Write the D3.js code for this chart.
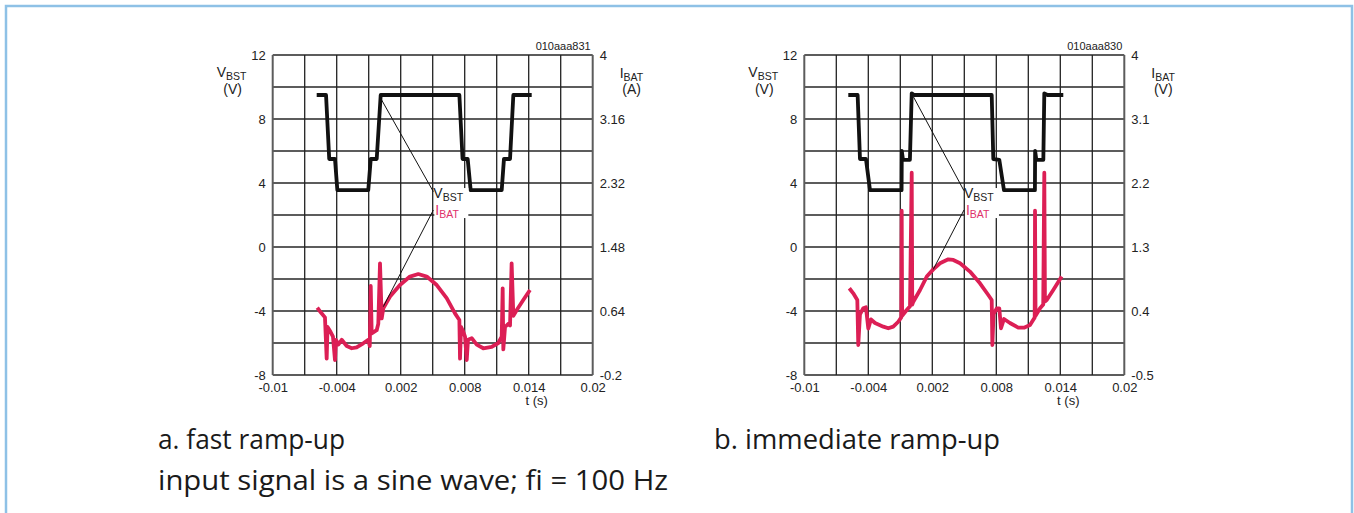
<!DOCTYPE html>
<html lang="en">
<head>
    <meta charset="UTF-8">
    <script src="https://d3js.org/d3.v7.min.js"></script>
    <title>VBST / IBAT ramp-up</title>
    <style>
        body{
            margin: 0;
            background: #fff;
        }
        svg{
            display: block;
        }
        .tick text{
            font-family: "Liberation Sans", Arial, sans-serif;
            font-size: 13px;
            fill: #222;
        }
    </style>
</head>
<body>
    <script>
        // shared axis ticks
        const tTicks = [-0.01, -0.004, 0.002, 0.008, 0.014, 0.02];
        const tTickLabels = ["-0.01", "-0.004", "0.002", "0.008", "0.014", "0.02"];
        const vTicks = [-8, -4, 0, 4, 8, 12];
        const vTickLabels = ["-8", "-4", "0", "4", "8", "12"];

        // right axis ticks for each panel
        const iTicksFast = [-0.2, 0.64, 1.48, 2.32, 3.16, 4];
        const iTickLabelsFast = ["-0.2", "0.64", "1.48", "2.32", "3.16", "4"];
        const iTicksImm = [-0.5, 0.4, 1.3, 2.2, 3.1, 4];
        const iTickLabelsImm = ["-0.5", "0.4", "1.3", "2.2", "3.1", "4"];

        // a. fast ramp-up : [t (s), VBST (V)]
        const vbstFast = [
            [-0.005875, 9.5], [-0.0050, 9.5], [-0.0047, 5.5], [-0.00416, 5.5],
            [-0.00394, 3.55], [-0.00104, 3.55], [-0.00081, 5.5], [-0.00025, 5.5],
            [0.000125, 9.5], [0.0075, 9.5], [0.0078, 5.5], [0.00828, 5.5],
            [0.00856, 3.55], [0.01147, 3.55], [0.01168, 5.5], [0.01225, 5.5],
            [0.01256, 9.5], [0.01428, 9.5]
        ];
        // a. fast ramp-up : [t (s), IBAT (A)]
        const ibatFast = [
            [-0.00582, 0.684], [-0.0055, 0.623], [-0.0051, 0.556], [-0.00494, 0.014],
            [-0.00486, 0.43], [-0.00458, 0.367], [-0.00435, 0.304], [-0.00416, -0.003],
            [-0.00407, 0.262], [-0.00385, 0.199], [-0.00353, 0.262], [-0.00306, 0.18],
            [-0.00259, 0.151], [-0.00213, 0.164], [-0.00151, 0.216], [-0.00104, 0.262],
            [-0.0009, 0.18], [-0.00081, 0.968], [-0.00072, 0.346], [-0.00025, 0.388],
            [-0.0001, 0.472], [0.00006, 1.266], [0.00022, 0.543], [0.00037, 0.676],
            [0.001, 0.829], [0.00193, 0.981], [0.00287, 1.092], [0.00365, 1.125],
            [0.00444, 1.092], [0.00538, 0.981], [0.00631, 0.808], [0.00709, 0.609],
            [0.0075, 0.522], [0.00756, 0.014], [0.00766, 0.43], [0.00787, 0.367],
            [0.00803, 0.304], [0.00819, -0.003], [0.00831, 0.262], [0.00866, 0.283],
            [0.00913, 0.199], [0.00974, 0.151], [0.01053, 0.168], [0.01115, 0.22],
            [0.01147, 0.304], [0.01156, 0.938], [0.01162, 0.136], [0.01178, 0.43],
            [0.01209, 0.472], [0.01225, 0.45], [0.0124, 1.266], [0.01256, 0.577],
            [0.01288, 0.653], [0.01349, 0.785], [0.01412, 0.915]
        ];

        // b. immediate ramp-up : [t (s), VBST (V)]
        const vbstImm = [
            [-0.005875, 9.5], [-0.0050, 9.5], [-0.00478, 5.5], [-0.00422, 5.5],
            [-0.00384, 3.55], [-0.00088, 3.55], [-0.00086, 6.0], [-0.00075, 5.45],
            [-0.0001, 5.45], [0.00007, 9.6], [0.0003, 9.5], [0.00757, 9.5],
            [0.00772, 5.5], [0.00828, 5.45], [0.00872, 3.55], [0.01162, 3.55],
            [0.01164, 6.0], [0.01175, 5.45], [0.01241, 5.45], [0.0125, 9.6],
            [0.0128, 9.5], [0.01428, 9.5]
        ];
        // b. immediate ramp-up : [t (s), IBAT]
        const ibatImm = [
            [-0.00578, 0.72], [-0.00541, 0.648], [-0.00503, 0.555], [-0.00494, -0.078],
            [-0.00478, 0.355], [-0.00447, 0.438], [-0.00422, 0.452], [-0.004, 0.153],
            [-0.00375, 0.283], [-0.00337, 0.231], [-0.00259, 0.18], [-0.00213, 0.157],
            [-0.00166, 0.18], [-0.00119, 0.249], [-0.00091, 0.31], [-0.00087, 1.811],
            [-0.00083, 0.333], [-0.0004, 0.414], [-0.00009, 0.468], [0.00007, 2.344],
            [0.00012, 0.49], [0.00022, 0.531], [0.00085, 0.695], [0.00148, 0.884],
            [0.00209, 0.985], [0.00272, 1.071], [0.0035, 1.127], [0.00397, 1.118],
            [0.0046, 1.071], [0.00553, 0.954], [0.00647, 0.789], [0.00725, 0.625],
            [0.00757, 0.555], [0.00763, -0.078], [0.00774, 0.355], [0.00804, 0.438],
            [0.00828, 0.438], [0.00844, 0.157], [0.00872, 0.287], [0.00928, 0.231],
            [0.01006, 0.166], [0.0106, 0.166], [0.01116, 0.203], [0.0116, 0.31],
            [0.01163, 1.811], [0.01168, 0.333], [0.0121, 0.438], [0.0124, 0.49],
            [0.0125, 2.344], [0.01256, 0.535], [0.01273, 0.555], [0.01334, 0.695],
            [0.01413, 0.884]
        ];

        // captions
        const captions = ['a. fast ramp-up', 'b. immediate ramp-up'];
        const note = 'input signal is a sine wave; fi = 100 Hz';

        const width = 1354;
        const height = 513;
        const plot = { top: 55, size: 320 };
        const black = '#111';
        const red = '#dc1f55';
        const labelFont = '"Liberation Sans", Arial, sans-serif';
        const captionFont = '"Open Sans", sans-serif';

        const svg = d3.select('body')
            .append('svg')
            .attr('width', width)
            .attr('height', height);

        svg.append('rect')
            .attr('x', 6).attr('y', 6)
            .attr('width', 1346).attr('height', 600)
            .attr('fill', 'none')
            .attr('stroke', '#8ec1e6')
            .attr('stroke-width', 2.5);

        const panels = [
            {
                left: 272.7, code: '010aaa831', iUnit: '(A)',
                vbst: vbstFast, ibat: ibatFast,
                iTicks: iTicksFast, iLabels: iTickLabelsFast,
                caption: captions[0], capX: 158, capW: 187,
                lead1: [[0.00012, 9.3], [0.00506, 3.46]],
                lead2: [[0.00506, 2.31], [0.00037, -3.73]],
                tag: [0.00506, 3.06, 2.0]
            },
            {
                left: 804.3, code: '010aaa830', iUnit: '(V)',
                vbst: vbstImm, ibat: ibatImm,
                iTicks: iTicksImm, iLabels: iTickLabelsImm,
                caption: captions[1], capX: 714, capW: 286,
                lead1: [[0.00022, 9.4], [0.00497, 3.52]],
                lead2: [[0.00497, 2.31], [0.00209, -1.4]],
                tag: [0.00497, 3.06, 2.0]
            }
        ];

        function subLabel(g, x, y, main, sub, color, anchor) {
            const t = g.append('text')
                .attr('x', x).attr('y', y)
                .attr('text-anchor', anchor || 'start')
                .attr('font-family', labelFont)
                .attr('fill', color);
            t.append('tspan').attr('font-size', 14).text(main);
            t.append('tspan').attr('font-size', 10.5).attr('dy', 3).text(sub);
            return t;
        }

        function caption(x, y, w, str) {
            svg.append('text')
                .attr('x', x).attr('y', y)
                .attr('font-family', captionFont)
                .attr('font-size', 26.5)
                .attr('fill', '#1a1a1a')
                .attr('textLength', w)
                .attr('lengthAdjust', 'spacingAndGlyphs')
                .text(str);
        }

        panels.forEach(p => {
            const x = d3.scaleLinear()
                .domain([-0.01, 0.02])
                .range([p.left, p.left + plot.size]);
            const yV = d3.scaleLinear()
                .domain([-8, 12])
                .range([plot.top + plot.size, plot.top]);
            const yI = d3.scaleLinear()
                .domain([p.iTicks[0], p.iTicks[p.iTicks.length - 1]])
                .range([plot.top + plot.size, plot.top]);

            const g = svg.append('g');

            // grid
            g.selectAll('.hgrid')
                .data(d3.range(-8, 13, 2)).enter()
                .append('line')
                .attr('x1', x(-0.01)).attr('x2', x(0.02))
                .attr('y1', d => yV(d)).attr('y2', d => yV(d))
                .attr('stroke', '#5c5c5c')
                .attr('stroke-width', 2);
            g.selectAll('.vgrid')
                .data(d3.range(11).map(i => -0.01 + i * 0.003)).enter()
                .append('line')
                .attr('x1', d => x(d)).attr('x2', d => x(d))
                .attr('y1', yV(12)).attr('y2', yV(-8))
                .attr('stroke', d => (d === -0.01 || Math.abs(d - 0.02) < 1e-9) ? '#5c5c5c' : '#222')
                .attr('stroke-width', d => (d === -0.01 || Math.abs(d - 0.02) < 1e-9) ? 2 : 1.3);

            // axes
            g.append('g')
                .attr('transform', `translate(${p.left}, 0)`)
                .call(d3.axisLeft(yV).tickValues(vTicks).tickSize(0).tickPadding(7)
                    .tickFormat((d, i) => vTickLabels[i]))
                .call(a => a.select('.domain').remove());
            g.append('g')
                .attr('transform', `translate(${p.left + plot.size}, 0)`)
                .call(d3.axisRight(yI).tickValues(p.iTicks).tickSize(0).tickPadding(7)
                    .tickFormat((d, i) => p.iLabels[i]))
                .call(a => a.select('.domain').remove());
            g.append('g')
                .attr('transform', `translate(0, ${plot.top + plot.size})`)
                .call(d3.axisBottom(x).tickValues(tTicks).tickSize(0).tickPadding(8)
                    .tickFormat((d, i) => tTickLabels[i]))
                .call(a => a.select('.domain').remove());

            // axis titles
            subLabel(g, p.left - 56, 77, 'V', 'BST', '#222');
            g.append('text')
                .attr('x', p.left - 40).attr('y', 94)
                .attr('text-anchor', 'middle')
                .attr('font-family', labelFont).attr('font-size', 14)
                .attr('fill', '#222').text('(V)');
            subLabel(g, p.left + plot.size + 27, 78, 'I', 'BAT', '#222');
            g.append('text')
                .attr('x', p.left + plot.size + 39).attr('y', 94)
                .attr('text-anchor', 'middle')
                .attr('font-family', labelFont).attr('font-size', 14)
                .attr('fill', '#222').text(p.iUnit);
            g.append('text')
                .attr('x', p.left + 264).attr('y', 405)
                .attr('text-anchor', 'middle')
                .attr('font-family', labelFont).attr('font-size', 13)
                .attr('fill', '#222').text('t (s)');
            g.append('text')
                .attr('x', p.left + 318).attr('y', 50)
                .attr('text-anchor', 'end')
                .attr('font-family', labelFont).attr('font-size', 11)
                .attr('fill', '#222').text(p.code);

            // traces
            g.append('path')
                .datum(p.vbst)
                .attr('fill', 'none')
                .attr('stroke', black)
                .attr('stroke-width', 3.8)
                .attr('stroke-linejoin', 'round')
                .attr('d', d3.line().x(d => x(d[0])).y(d => yV(d[1])));
            g.append('path')
                .datum(p.ibat)
                .attr('fill', 'none')
                .attr('stroke', red)
                .attr('stroke-width', 3.8)
                .attr('stroke-linejoin', 'round')
                .attr('d', d3.line().x(d => x(d[0])).y(d => yI(d[1])));

            // leader lines + labels
            [p.lead1, p.lead2].forEach(l => {
                g.append('line')
                    .attr('x1', x(l[0][0])).attr('y1', yV(l[0][1]))
                    .attr('x2', x(l[1][0])).attr('y2', yV(l[1][1]))
                    .attr('stroke', '#111').attr('stroke-width', 1);
            });
            const tx = x(p.tag[0]);
            g.append('rect')
                .attr('x', tx + 1).attr('y', yV(p.tag[1]) - 10)
                .attr('width', 34).attr('height', 30)
                .attr('fill', '#fff');
            subLabel(g, tx, yV(p.tag[1]), 'V', 'BST', '#222');
            subLabel(g, tx + 2, yV(p.tag[2]), 'I', 'BAT', '#e0306a');

            caption(p.capX, 449, p.capW, p.caption);
        });

        caption(158, 490, 510, note);
    </script>
</body>
</html>
